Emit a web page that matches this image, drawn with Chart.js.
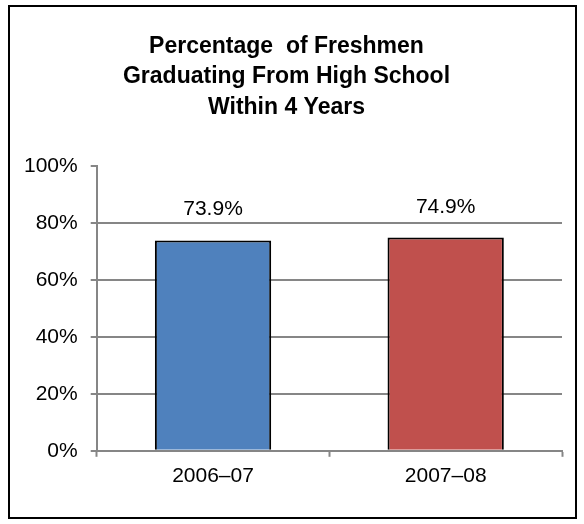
<!DOCTYPE html>
<html>
<head>
<meta charset="utf-8">
<script src="https://cdn.jsdelivr.net/npm/chart.js@4/dist/chart.umd.min.js"></script>
<style>
  html, body { margin: 0; padding: 0; background: #fff; }
  #wrap { position: relative; width: 584px; height: 524px; }
</style>
</head>
<body>
<div id="wrap"><canvas id="c" width="584" height="524"></canvas></div>
<script>
const categories = ["2006\u201307", "2007\u201308"];
const values = [73.9, 74.9];
const barColors = ["#4F81BD", "#C0504D"];
const titleLines = ["Percentage  of Freshmen", "Graduating From High School", "Within 4 Years"];
const yMax = 100;
const yStep = 20;

const FONT = "'Liberation Sans', Arial, sans-serif";

const frame = {
  id: 'frame',
  beforeDraw(chart) {
    const ctx = chart.ctx;
    ctx.save();
    ctx.fillStyle = '#fff';
    ctx.fillRect(0, 0, chart.width, chart.height);
    ctx.strokeStyle = '#000';
    ctx.lineWidth = 2;
    ctx.strokeRect(9, 6, 567, 512);
    ctx.restore();
  }
};

const valueLabels = {
  id: 'valueLabels',
  afterDatasetsDraw(chart) {
    const ctx = chart.ctx;
    const meta = chart.getDatasetMeta(0);
    ctx.save();
    ctx.font = '21px ' + FONT;
    ctx.fillStyle = '#000';
    ctx.textAlign = 'center';
    ctx.textBaseline = 'alphabetic';
    meta.data.forEach((bar, i) => {
      ctx.fillText(values[i].toFixed(1) + '%', bar.x, bar.y - 25);
    });
    ctx.restore();
  }
};

new Chart(document.getElementById('c'), {
  type: 'bar',
  data: {
    labels: categories,
    datasets: [{
      data: values,
      backgroundColor: barColors,
      borderColor: '#000',
      borderWidth: 2,
      borderSkipped: 'bottom',
      categoryPercentage: 0.5,
      barPercentage: 1.0
    }]
  },
  options: {
    responsive: false,
    animation: false,
    devicePixelRatio: 1,
    layout: { padding: { left: 11, right: 22, top: 5, bottom: 28 } },
    plugins: {
      legend: { display: false },
      tooltip: { enabled: false },
      title: {
        display: true,
        text: titleLines,
        color: '#000',
        font: { family: FONT, size: 23, weight: 'bold', lineHeight: 1.335 },
        padding: { top: 26, bottom: 43 }
      }
    },
    scales: {
      x: {
        grid: {
          display: true,
          drawOnChartArea: false,
          drawTicks: true,
          tickLength: 6,
          tickColor: '#868686',
          tickWidth: 2,
          offset: true
        },
        border: { display: true, color: '#868686', width: 2 },
        ticks: {
          color: '#000',
          font: { family: FONT, size: 21 },
          padding: 7
        }
      },
      y: {
        min: 0,
        max: yMax,
        grid: {
          color: (c) => (c.tick && c.tick.value === yMax) ? 'rgba(0,0,0,0)' : '#868686',
          lineWidth: 2,
          tickColor: '#868686',
          tickWidth: 2,
          tickLength: 6,
          drawTicks: true
        },
        border: { display: true, color: '#868686', width: 2 },
        ticks: {
          stepSize: yStep,
          color: '#000',
          font: { family: FONT, size: 21 },
          padding: 13,
          callback: (v) => v + '%'
        }
      }
    }
  },
  plugins: [frame, valueLabels]
});
</script>
</body>
</html>
